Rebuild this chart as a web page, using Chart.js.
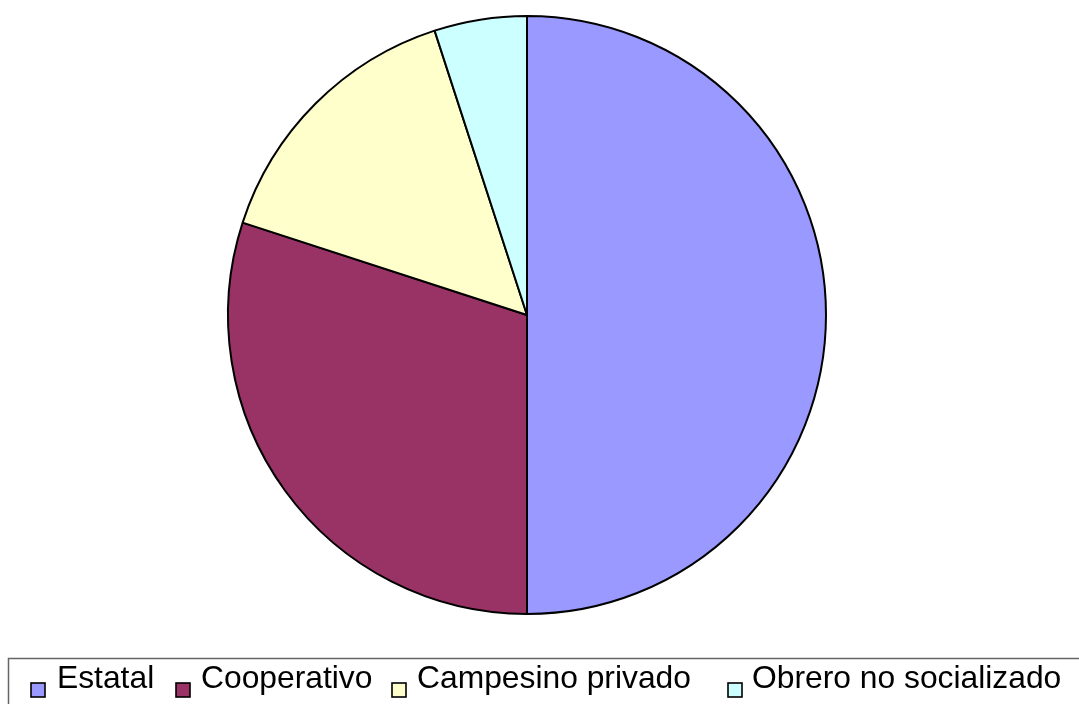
<!DOCTYPE html>
<html>
<head>
<meta charset="utf-8">
<script src="https://cdn.jsdelivr.net/npm/chart.js@4/dist/chart.umd.min.js"></script>
<style>
  html, body { margin: 0; padding: 0; background: #ffffff; }
  #wrap { position: relative; width: 1079px; height: 704px; }
  canvas { display: block; }
</style>
</head>
<body>
<div id="wrap"><canvas id="c" width="1079" height="704"></canvas></div>
<script>
const categories = ["Estatal", "Cooperativo", "Campesino privado", "Obrero no socializado"];
const values = [50, 30, 15, 5];
const colors = ["#9999FF", "#993366", "#FFFFCC", "#CCFFFF"];

// Legend layout (box x, text x) — style only
const legendBoxX = [31, 176, 392, 728];
const legendTextX = [57, 201, 417, 752];

const customLegend = {
  id: 'customLegend',
  afterDraw(chart) {
    const ctx = chart.ctx;
    ctx.save();
    ctx.strokeStyle = '#666666';
    ctx.lineWidth = 1.5;
    ctx.beginPath();
    ctx.moveTo(8.5, 720);
    ctx.lineTo(8.5, 658.5);
    ctx.lineTo(1090, 658.5);
    ctx.stroke();
    const labels = chart.data.labels;
    const ds = chart.data.datasets[0];
    ctx.font = '31.8px "Liberation Sans", Arial, sans-serif';
    ctx.textBaseline = 'alphabetic';
    labels.forEach((lab, i) => {
      ctx.fillStyle = ds.backgroundColor[i];
      ctx.fillRect(legendBoxX[i], 683, 14, 14);
      ctx.strokeStyle = '#000';
      ctx.lineWidth = 1.6;
      ctx.strokeRect(legendBoxX[i], 683, 14, 14);
      ctx.fillStyle = '#000';
      ctx.fillText(lab, legendTextX[i], 688);
    });
    ctx.restore();
  }
};

new Chart(document.getElementById('c'), {
  type: 'pie',
  data: {
    labels: categories,
    datasets: [{
      data: values,
      backgroundColor: colors,
      borderColor: '#000000',
      borderWidth: 2,
      borderAlign: 'center'
    }]
  },
  options: {
    responsive: false,
    animation: false,
    layout: { padding: { left: 0, right: 25, top: 15, bottom: 89 } },
    plugins: {
      legend: { display: false },
      tooltip: { enabled: false }
    }
  },
  plugins: [customLegend]
});
</script>
</body>
</html>
